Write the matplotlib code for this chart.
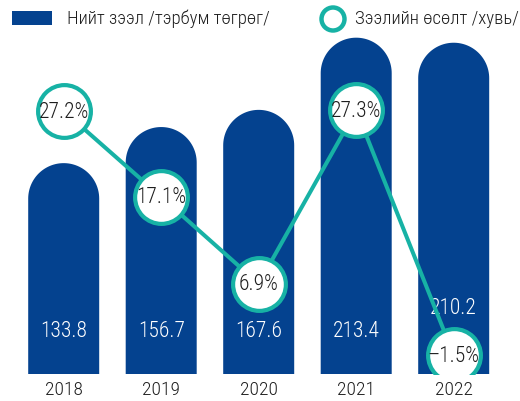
import matplotlib

matplotlib.use("Agg")
import matplotlib.pyplot as plt
import numpy as np
from matplotlib.patches import Circle, PathPatch, Rectangle
from matplotlib.path import Path

years = ["2018", "2019", "2020", "2021", "2022"]
loans = [133.8, 156.7, 167.6, 213.4, 210.2]
growth = [27.2, 17.1, 6.9, 27.3, -1.5]
loan_labels = ["133.8", "156.7", "167.6", "213.4", "210.2"]
growth_labels = ["27.2%", "17.1%", "6.9%", "27.3%", "\u20131.5%"]
legend_loans = "Нийт зээл /тэрбум төгрөг/"
legend_growth = "Зээлийн өсөлт /хувь/"

BAR = "#04428f"
TEAL = "#17b2a5"
INK = "#1e1e1e"

plt.rcParams["font.family"] = ["Roboto Condensed", "PT Sans Narrow", "Liberation Sans", "DejaVu Sans"]
plt.rcParams["font.weight"] = "light"

W, H = 520, 402
fig = plt.figure(figsize=(W / 100, H / 100), dpi=100)

# axes run from the bar baseline to the top edge; x spacing ~97.5 px per year
base_px = 27
step_px = 97.5
first_px = 63.7
px_per_unit = 1.576
ax = fig.add_axes([0, base_px / H, 1, 1 - base_px / H])
ax.set_xlim(-first_px / step_px, (W - first_px) / step_px)
ax.set_ylim(0, (H - base_px) / px_per_unit)
ax.axis("off")

bar_w = 71 / step_px
rx = bar_w / 2
ry = (71 / 2) / px_per_unit

# growth line on its own scale (pixels per percentage point, zero offset in px)
g_px = 8.507
g_zero = 31.6


def rounded_bar(x, h):
    # rectangle body capped with a half ellipse that looks round on screen
    t = np.linspace(0, np.pi, 60)
    top = h - ry
    xs = np.concatenate([[x - rx, x - rx], x + rx * np.cos(t[::-1]), [x + rx, x + rx]])
    ys = np.concatenate([[0, top], top + ry * np.sin(t[::-1]), [top, 0]])
    verts = np.column_stack([xs, ys])
    verts = np.vstack([verts, verts[:1]])
    codes = [Path.MOVETO] + [Path.LINETO] * (len(verts) - 2) + [Path.CLOSEPOLY]
    return PathPatch(Path(verts, codes), facecolor=BAR, edgecolor="none", zorder=1)


xs = np.arange(len(years))
label_px = 43
for x, v, g, lab, yr in zip(xs, loans, growth, loan_labels, years):
    ax.add_patch(rounded_bar(x, v))
    # lift the value label above a growth circle sitting at the bar foot
    circle_px = g_zero + g * g_px
    y_px = label_px if abs(circle_px - label_px) > 45 else circle_px + 48
    ax.text(x, y_px / px_per_unit, lab, color="white", fontsize=15.5,
            ha="center", va="center", zorder=2)
    ax.text(x, -15 / px_per_unit, yr, color=INK, fontsize=14, ha="center", va="center",
            clip_on=False)

ax2 = fig.add_axes(ax.get_position(), sharex=ax)
ax2.patch.set_alpha(0)
ax2.set_ylim(-g_zero / g_px, (H - base_px - g_zero) / g_px)
ax2.axis("off")
ax2.plot(xs, growth, color=TEAL, linewidth=2.9, zorder=3,
         marker="o", markersize=38, markerfacecolor="white",
         markeredgecolor=TEAL, markeredgewidth=3.0)
for x, g, lab in zip(xs, growth, growth_labels):
    ax2.text(x, g, lab, color=INK, fontsize=15.5, ha="center", va="center", zorder=4)

# legend drawn in figure pixels
fig.add_artist(Rectangle((12 / W, 1 - 25.7 / H), 40 / W, 14 / H,
                         transform=fig.transFigure, facecolor=BAR, edgecolor="none"))
fig.text(67 / W, 1 - 19 / H, legend_loans, fontsize=13.5, color=INK, va="center", ha="left")
fig.add_artist(Circle((333, H - 20), 11.5, transform=None, facecolor="white",
                      edgecolor=TEAL, linewidth=3.2))
fig.text(355 / W, 1 - 19 / H, legend_growth, fontsize=13.5, color=INK, va="center", ha="left")

fig.savefig("out.png", dpi=100)
